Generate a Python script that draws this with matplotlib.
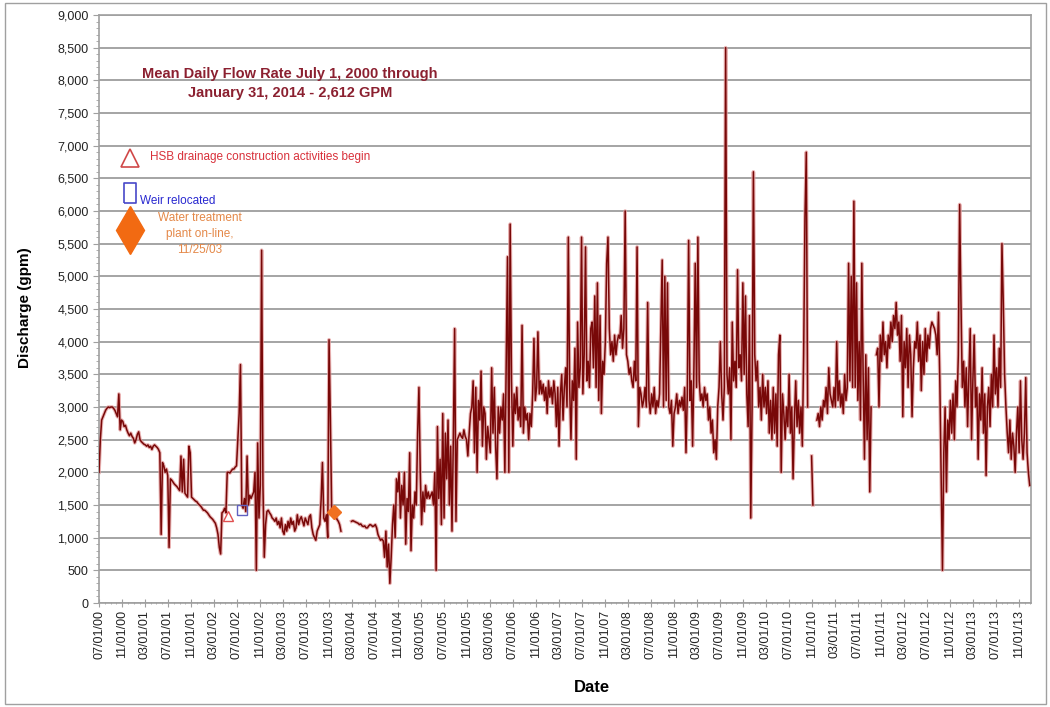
import numpy as np
import pandas as pd
import matplotlib
matplotlib.use("Agg")
import matplotlib.pyplot as plt
import matplotlib.dates as mdates
from matplotlib.ticker import MultipleLocator, FuncFormatter
from matplotlib.patches import Rectangle

plt.rcParams['font.family'] = ['Liberation Sans', 'DejaVu Sans']

nan = np.nan

# weekly readings of mean daily discharge (gpm), July-June blocks
flow_2000_01 = [2000, 2500, 2800, 2850, 2900, 2950, 2980, 3000, 2990, 3000,
                3000, 2980, 2950, 2900, 2850, 3200, 2650, 2800, 2780, 2700,
                2720, 2650, 2600, 2560, 2600, 2550, 2520, 2450, 2500, 2580,
                2620, 2500, 2470, 2450, 2430, 2420, 2400, 2420, 2380, 2400,
                2350, 2400, 2420, 2400, 2380, 2350, 2300, 1050, 2150, 2100,
                2000, 2050]
flow_2001_02 = [1950, 850, 1900, 1880, 1850, 1820, 1800, 1780, 1750, 1720,
                2250, 1700, 2200, 1680, 1650, 1620, 2400, 2300, 1620, 1600,
                1580, 1560, 1550, 1520, 1500, 1480, 1450, 1420, 1420, 1400,
                1380, 1350, 1320, 1300, 1280, 1250, 1220, 1150, 1050, 850,
                750, 1380, 1400, 1450, 1380, 2000, 2000, 1990, 2020, 2050,
                2050, 2080]
flow_2002_03 = [2100, 2500, 2900, 3650, 1500, 1450, 1600, 1400, 2250, 1500,
                1650, 1600, 1650, 1700, 2000, 500, 2450, 1300, 1800, 5400,
                1800, 700, 1200, 1400, 1420, 1380, 1350, 1300, 1280, 1250,
                1300, 1200, 1250, 1150, 1300, 1100, 1050, 1200, 1100, 1250,
                1150, 1300, 1200, 1250, 1100, 1150, 1350, 1200, 1280, 1320,
                1250, 1180]
flow_2003_04 = [1300, 1250, 1200, 1320, 1350, 1150, 1050, 1000, 960, 1100,
                1150, 1200, 1580, 2150, 1300, 1250, 1350, 1000, 4030, 2800,
                1400, 1450, 1300, 1350, 1280, 1250, 1200, 1100, nan, nan,
                nan, nan, nan, nan, nan, 1250, 1260, 1250, 1240, 1230,
                1220, 1200, 1210, 1180, 1170, 1180, 1150, 1150, 1180, 1200,
                1190, 1170]
flow_2004_05 = [1180, 1200, 1150, 1050, 1000, 960, 980, 950, 700, 1100,
                550, 900, 300, 700, 1200, 1500, 1000, 1900, 1700, 2000,
                1300, 1800, 1500, 2000, 900, 1600, 1400, 2300, 800, 1500,
                1300, 1700, 1500, 2600, 3300, 2000, 1200, 1700, 1400, 1800,
                1600, 1700, 1600, 1650, 1700, 1500, 2000, 500, 2700, 1600,
                2200, 1200]
flow_2005_06 = [2900, 1300, 2600, 1900, 2800, 1500, 2400, 1100, 2500, 4200,
                1250, 2500, 2550, 2600, 2550, 2520, 2650, 2550, 2500, 2250,
                2600, 2900, 3000, 3400, 2300, 3300, 2000, 3100, 2800, 3550,
                2400, 3000, 2900, 2200, 2700, 2500, 2300, 3600, 2600, 3300,
                2400, 1900, 3000, 2600, 3000, 2800, 3200, 2000, 3600, 5300,
                2000, 5800]
flow_2006_07 = [3400, 2400, 3200, 2900, 3300, 2800, 3000, 2700, 4250, 2600,
                3000, 2800, 2900, 2500, 2900, 2700, 3200, 4050, 3100, 3300,
                4150, 3200, 3400, 3200, 3350, 3100, 3300, 2900, 3400, 3150,
                3300, 3050, 3400, 3200, 2700, 3300, 2400, 3200, 3500, 2800,
                3300, 3600, 3000, 5600, 3300, 2500, 3400, 3100, 3900, 2200,
                4300, 3300]
flow_2007_08 = [3600, 5600, 3200, 3800, 5450, 3400, 3700, 3300, 4200, 4300,
                3600, 4700, 3300, 4900, 3100, 4400, 2900, 3700, 3500, 4000,
                5200, 5600, 4200, 3800, 4000, 3700, 4100, 3800, 4000, 4100,
                4050, 4400, 3900, 4200, 6000, 3800, 3700, 3500, 3600, 3400,
                3300, 3700, 3400, 5450, 2700, 3300, 3200, 3000, 3100, 3300,
                3000, 4600]
flow_2008_09 = [3100, 2900, 3200, 3000, 3300, 2900, 3100, 3000, 3200, 4200,
                5250, 3000, 5000, 3100, 4900, 3000, 2900, 3100, 2400, 2900,
                3000, 3200, 2900, 3100, 3000, 3150, 2950, 3300, 2300, 3200,
                5550, 3100, 3400, 2400, 3600, 5200, 3300, 5600, 3400, 3100,
                3200, 3000, 3300, 3100, 3200, 2800, 3000, 2600, 2800, 2300,
                2500, 2200]
flow_2009_10 = [3000, 3300, 4000, 3200, 2800, 3300, 8500, 3500, 3200, 3600,
                2500, 4300, 3400, 3700, 3300, 5100, 3600, 3800, 3400, 4900,
                3500, 4700, 3200, 2700, 4400, 1300, 3000, 6600, 3800, 3400,
                3700, 3000, 3300, 2800, 3500, 3000, 3300, 2900, 3400, 2600,
                3100, 2500, 3300, 2600, 3200, 2400, 3800, 4100, 2000, 3200,
                2900, 2500]
flow_2010_11 = [3000, 2700, 3500, 2600, 3000, 1900, 2800, 3400, 2700, 3100,
                2600, 3000, 2400, 3800, 5900, 6900, 3000, nan, nan, 2250,
                1500, nan, nan, 2800, 2900, 2700, 3000, 2800, 3100, 3000,
                3300, 2900, 3600, 3200, 3100, 3000, 3300, 3000, 4000, 3100,
                3400, 3000, 3200, 2900, 3500, 3100, 3300, 5200, 3400, 5000,
                3300, 6150]
flow_2011_12 = [3300, 4900, 3100, 4000, 2800, 5200, 3500, 2200, 3800, 2500,
                3600, 1700, 3000, nan, nan, nan, 3800, 3900, 3000, 4100,
                3700, 4300, 3800, 4000, 3600, 4100, 3900, 4300, 4000, 4400,
                4200, 4600, 4100, 4300, 3700, 4400, 2850, 4000, 3600, 4200,
                3300, 4100, 3800, 2850, 3600, 4000, 3900, 4300, 3700, 4100,
                3250, 4000]
flow_2012_13 = [3500, 4200, 3700, 4100, 3900, 4200, 4300, 4250, 4200, 4100,
                3800, 4450, 3400, 2000, 500, 2300, 3000, 1700, 2800, 2500,
                3100, 2600, 3200, 2500, 3400, 3000, 3800, 6100, 4600, 3300,
                3700, 3000, 3600, 2700, 3500, 4200, 2500, 3400, 4100, 3000,
                3300, 2200, 3200, 2800, 3600, 2600, 3200, 1950, 3000, 3300,
                2700, 3500]
flow_2013_14 = [3000, 4100, 3200, 3600, 3000, 3900, 3300, 5500, 4600, 3500,
                3000, 2600, 2300, 2800, 2200, 2600, 2400, 2000, 2600, 3000,
                2300, 3400, 2500, 2200, 2600, 3450, 2300, 2000, 1800]

start_date = "2000-07-01"
end_date = "2014-01-06"

event_dates = ["2002-05-14", "2002-07-27", "2003-11-25"]
event_values = [1330, 1420, 1400]
event_labels = ["HSB drainage construction activities begin",
                "Weir relocated",
                "Water treatment\nplant on-line,\n11/25/03"]

title_text = "Mean Daily Flow Rate July 1, 2000 through\nJanuary 31, 2014 - 2,612 GPM"

flow = np.array(flow_2000_01 + flow_2001_02 + flow_2002_03 + flow_2003_04 +
                flow_2004_05 + flow_2005_06 + flow_2006_07 + flow_2007_08 +
                flow_2008_09 + flow_2009_10 + flow_2010_11 + flow_2011_12 +
                flow_2012_13 + flow_2013_14, dtype=float)
dates = pd.date_range(start_date, periods=len(flow), freq="7D")

fig = plt.figure(figsize=(10.5, 7.07), dpi=100)
ax = fig.add_axes([0.0943, 0.1471, 0.888, 0.8317])

# flow line: soft pink halo under a dark red line
ax.plot(dates, flow, color="#e39a9a", lw=2.6, alpha=0.75, zorder=2)
ax.plot(dates, flow, color="#780808", lw=1.1, zorder=3)

# event markers on the series
ev = pd.to_datetime(event_dates)
ax.plot(ev[0], event_values[0], marker="^", ms=7, mfc="none", mec="#e05050", mew=1, zorder=4)
ax.plot(ev[1], event_values[1], marker="s", ms=7, mfc="none", mec="#6060c0", mew=1, zorder=4)
ax.plot(ev[2], event_values[2], marker="D", ms=7, mfc="#f07020", mec="#f07020", zorder=4)

# legend-like keys on the left
tall_rect = [(-0.6, -1), (0.6, -1), (0.6, 1), (-0.6, 1), (-0.6, -1)]
ax.plot(0.0332, 0.757, transform=ax.transAxes, marker="^", ms=13, mfc="none",
        mec="#d04848", mew=1.2, clip_on=False)
ax.text(0.0547, 0.758, event_labels[0], transform=ax.transAxes, color="#d8303a",
        fontsize=8.5, ha="left", va="center")
ax.plot(0.0332, 0.698, transform=ax.transAxes, marker=tall_rect, ms=14, mfc="none",
        mec="#4848c8", mew=1.2, clip_on=False)
ax.text(0.044, 0.684, event_labels[1], transform=ax.transAxes, color="#2828d0",
        fontsize=8.5, ha="left", va="center")
ax.plot(0.0332, 0.634, transform=ax.transAxes, marker="d", ms=24, mfc="#f26a12",
        mec="#f26a12", clip_on=False)
ax.text(0.108, 0.628, event_labels[2], transform=ax.transAxes, color="#e48848",
        fontsize=8.5, ha="center", va="center", linespacing=1.45)

ax.text(0.205, 0.884, title_text, transform=ax.transAxes, color="#8b2030",
        fontsize=10.5, fontweight="bold", ha="center", va="center", linespacing=1.45)

ax.set_xlim(pd.Timestamp(start_date), pd.Timestamp(end_date))
ax.set_ylim(0, 9000)

ax.yaxis.set_major_locator(MultipleLocator(500))
ax.yaxis.set_minor_locator(MultipleLocator(100))
ax.yaxis.set_major_formatter(FuncFormatter(lambda v, p: f"{int(v):,}"))

ax.xaxis.set_major_locator(mdates.MonthLocator(bymonth=[3, 7, 11], bymonthday=1))
ax.xaxis.set_minor_locator(mdates.MonthLocator())
ax.xaxis.set_major_formatter(mdates.DateFormatter("%m/%d/%y"))
plt.setp(ax.get_xticklabels(), rotation=90)

ax.grid(axis="y", which="major", color="#8c8c8c", lw=1.1)
ax.set_axisbelow(True)

for s in ax.spines.values():
    s.set_color("#a0a0a0")
    s.set_linewidth(1.2)

ax.tick_params(which="major", length=4, color="#a0a0a0", labelsize=9, labelcolor="#222222")
ax.tick_params(which="minor", length=2, color="#a0a0a0")
ax.tick_params(axis="x", which="both", direction="inout")
ax.tick_params(axis="x", which="major", length=6, pad=2)

fig.text(25 / 1050, 1 - 308 / 707, "Discharge (gpm)", rotation=90, fontsize=11,
         fontweight="bold", ha="center", va="center")
fig.text(592 / 1050, 1 - 688 / 707, "Date", fontsize=12, fontweight="bold",
         ha="center", va="center")

# outer chart frame
fig.patches.append(Rectangle((5 / 1050, 3 / 707), 1041 / 1050, 701 / 707,
                             transform=fig.transFigure, fill=False,
                             edgecolor="#a0a0a0", lw=1))

fig.savefig("out.png", dpi=100)
